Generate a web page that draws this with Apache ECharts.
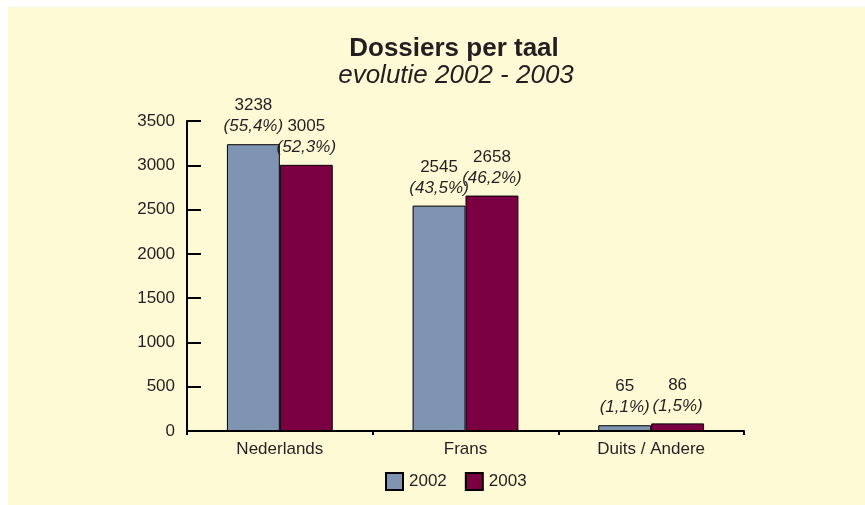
<!DOCTYPE html>
<html><head><meta charset="utf-8">
<script src="https://cdn.jsdelivr.net/npm/echarts@6/dist/echarts.min.js"></script>
<style>
html,body{margin:0;padding:0;background:#fff;}
#wrap{position:relative;width:865px;height:505px;background:#fff;overflow:hidden;}
#chart{position:absolute;left:8px;top:7px;width:857px;height:498px;background:#fffad6;}
</style></head>
<body><div id="wrap"><div id="chart"></div></div>
<script>
const categories = ['Nederlands', 'Frans', 'Duits / Andere'];
const values2002 = [3238, 2545, 65];
const values2003 = [3005, 2658, 86];
const pct2002 = ['55,4%', '43,5%', '1,1%'];
const pct2003 = ['52,3%', '46,2%', '1,5%'];
const seriesNames = ['2002', '2003'];
const yTicks = [0, 500, 1000, 1500, 2000, 2500, 3000, 3500];

const FONT = '"Liberation Sans", Arial, Helvetica, sans-serif';
const TXT = '#231f20';
const chart = echarts.init(document.getElementById('chart'), null, {renderer: 'canvas'});

function makeLabel(pcts) {
  return {
    show: true, position: 'top', distance: 7,
    formatter: p => '{v|' + p.value + '}\n{p|(' + pcts[p.dataIndex] + ')}',
    rich: {
      v: {fontFamily: FONT, fontSize: 17, lineHeight: 21, color: TXT, align: 'center'},
      p: {fontFamily: FONT, fontSize: 17, lineHeight: 21, color: TXT, fontStyle: 'italic', align: 'center'}
    }
  };
}

chart.setOption({
  backgroundColor: '#fffad6',
  animation: false,
  title: [
    {text: 'Dossiers per taal', left: 446, top: 29, textAlign: 'center', padding: 0,
     textStyle: {fontFamily: FONT, fontSize: 26, fontWeight: 'bold', color: TXT, lineHeight: 26}},
    {text: 'evolutie 2002 - 2003', left: 448, top: 56, textAlign: 'center', padding: 0,
     textStyle: {fontFamily: FONT, fontSize: 26, fontWeight: 'normal', fontStyle: 'italic', color: TXT, lineHeight: 26}}
  ],
  legend: {
    data: seriesNames, left: 377, top: 465, padding: 0,
    itemWidth: 17, itemHeight: 17, itemGap: 18,
    icon: 'rect',
    textStyle: {fontFamily: FONT, fontSize: 17, color: TXT, padding: [0, 0, 0, 1]}
  },
  grid: {left: 179, top: 114, right: 121, bottom: 74, containLabel: false},
  xAxis: {
    type: 'category', data: categories,
    axisLine: {lineStyle: {color: '#000', width: 2}},
    axisTick: {show: true, length: 4, lineStyle: {color: '#000', width: 2}},
    axisLabel: {fontFamily: FONT, fontSize: 17, color: TXT, margin: 10}
  },
  yAxis: {
    type: 'value', min: yTicks[0], max: yTicks[yTicks.length - 1], interval: 500,
    axisLine: {show: true, lineStyle: {color: '#000', width: 2}},
    axisTick: {show: true, inside: true, length: 14, lineStyle: {color: '#000', width: 2}},
    splitLine: {show: false},
    axisLabel: {fontFamily: FONT, fontSize: 17, color: TXT, margin: 12, formatter: v => String(v)}
  },
  series: [
    {name: seriesNames[0], type: 'bar', data: values2002, barGap: '0%', barCategoryGap: '43%',
     itemStyle: {color: '#7f93b3', borderColor: '#000', borderWidth: 1}, label: makeLabel(pct2002)},
    {name: seriesNames[1], type: 'bar', data: values2003,
     itemStyle: {color: '#7b0042', borderColor: '#000', borderWidth: 1}, label: makeLabel(pct2003)}
  ]
});
</script></body></html>
